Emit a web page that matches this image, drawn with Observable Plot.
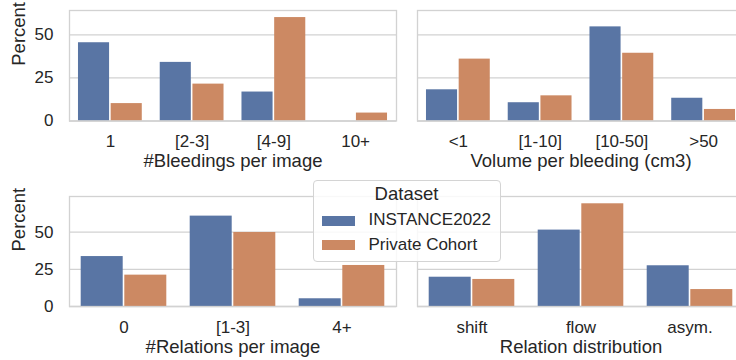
<!DOCTYPE html>
<html><head><meta charset="utf-8">
<script src="https://cdn.jsdelivr.net/npm/d3@7"></script>
<script src="https://cdn.jsdelivr.net/npm/@observablehq/plot@0.6"></script>
<style>
html,body{margin:0;padding:0;background:#fff;overflow:hidden;}
#wrap{position:relative;width:736px;height:360px;overflow:hidden;font-family:"Liberation Sans",Arial,sans-serif;color:#262626;}
.panel{position:absolute;}
.panel svg{overflow:visible;max-width:none !important;}
#legend{position:absolute;left:312.5px;top:180px;width:186px;height:79.5px;border:1px solid #d4d4d4;border-radius:4px;background:rgba(255,255,255,0.85);z-index:5;}
#legend .title{position:absolute;left:0;right:0;top:3px;text-align:center;font-size:18.5px;line-height:20px;}
#legend .sw{position:absolute;left:8px;width:33px;height:9.5px;}
#legend .lab{position:absolute;left:55px;font-size:17px;line-height:20px;white-space:nowrap;}
</style></head>
<body><div id="wrap"></div>
<script>
const datasets = ["INSTANCE2022", "Private Cohort"];
const colors = ["#5975A4", "#CC8963"];
const legendTitle = "Dataset";
const yTicks = [0, 25, 50];

const bleedCats = ["1", "[2-3]", "[4-9]", "10+"];
const bleedInstance = [45.4, 34.0, 16.8, 0];
const bleedPrivate = [10.1, 21.4, 60.0, 4.6];

const volCats = ["<1", "[1-10]", "[10-50]", ">50"];
const volInstance = [18.1, 10.6, 54.6, 13.2];
const volPrivate = [35.9, 14.6, 39.3, 6.7];

const relCats = ["0", "[1-3]", "4+"];
const relInstance = [33.6, 60.8, 5.2];
const relPrivate = [21.1, 49.8, 27.6];

const distCats = ["shift", "flow", "asym."];
const distInstance = [19.7, 51.4, 27.4];
const distPrivate = [18.2, 69.1, 11.4];

const FONT = '"Liberation Sans", Arial, sans-serif';
const LINE = "#d2d2d2";

function panel(o) {
  const rows = o.cats.flatMap((c, i) => [
    {cat: c, ds: datasets[0], v: o.inst[i]},
    {cat: c, ds: datasets[1], v: o.priv[i]}
  ]);
  const plotW = o.width - o.mL - o.mR;
  const half = plotW / o.cats.length * 0.8 / 2;
  const marks = [
    Plot.gridY(yTicks, {stroke: LINE, strokeOpacity: 1, strokeWidth: 1.3}),
    Plot.barY(rows.filter(d => d.ds === datasets[0]), {x: "cat", y: "v", fill: "ds", insetLeft: 0.8, insetRight: half + 0.8}),
    Plot.barY(rows.filter(d => d.ds === datasets[1]), {x: "cat", y: "v", fill: "ds", insetLeft: half + 0.8, insetRight: 0.8}),
    Plot.frame({stroke: LINE, strokeWidth: 1.3}),
    Plot.axisX({tickSize: 0, tickPadding: 14, label: null, fontSize: 17}),
    Plot.text([o.xlabel], {text: d => d, frameAnchor: "bottom", dy: o.labelDy, fontSize: 18.5, fill: "#262626"})
  ];
  if (o.showY) {
    marks.push(Plot.axisY(yTicks, {tickSize: 0, tickPadding: 16, label: null, fontSize: 17}));
    marks.push(Plot.text(["Percent"], {text: d => d, frameAnchor: "left", dx: -50.5, rotate: -90, fontSize: 18.5, fill: "#262626"}));
  }
  const p = Plot.plot({
    width: o.width, height: o.height,
    marginLeft: o.mL, marginRight: o.mR, marginTop: o.mT, marginBottom: o.mB,
    style: {fontFamily: FONT, fontSize: "17px", color: "#262626", background: "transparent", overflow: "visible", maxWidth: "none"},
    x: {domain: o.cats, paddingInner: 0.2, paddingOuter: 0.1, round: false, label: null, axis: null},
    y: {domain: [0, o.ymax], nice: false, label: null, axis: null},
    color: {domain: datasets, range: colors},
    marks
  });
  const div = document.createElement("div");
  div.className = "panel";
  div.style.left = o.left + "px";
  div.style.top = o.top + "px";
  div.style.width = o.width + "px";
  div.style.height = o.height + "px";
  div.appendChild(p);
  document.getElementById("wrap").appendChild(div);
}

panel({cats: bleedCats, inst: bleedInstance, priv: bleedPrivate, xlabel: "#Bleedings per image",
  ymax: 64.1, showY: true, left: 0, top: 0, width: 400, height: 180, mL: 69, mR: 4, mT: 10, mB: 59.5, labelDy: 45.5});
panel({cats: volCats, inst: volInstance, priv: volPrivate, xlabel: "Volume per bleeding (cm3)",
  ymax: 64.1, showY: false, left: 400, top: 0, width: 350, height: 180, mL: 17, mR: 6, mT: 10, mB: 59.5, labelDy: 45.5});
panel({cats: relCats, inst: relInstance, priv: relPrivate, xlabel: "#Relations per image",
  ymax: 74.0, showY: true, left: 0, top: 186, width: 400, height: 180, mL: 69, mR: 4, mT: 10, mB: 60, labelDy: 46.5});
panel({cats: distCats, inst: distInstance, priv: distPrivate, xlabel: "Relation distribution",
  ymax: 74.0, showY: false, left: 400, top: 186, width: 350, height: 180, mL: 17, mR: 6, mT: 10, mB: 60, labelDy: 46.5});

// legend
const lg = document.createElement("div");
lg.id = "legend";
const t = document.createElement("div");
t.className = "title"; t.textContent = legendTitle;
lg.appendChild(t);
datasets.forEach((name, i) => {
  const sw = document.createElement("div");
  sw.className = "sw"; sw.style.top = (35 + i * 24.3) + "px"; sw.style.background = colors[i];
  const lb = document.createElement("div");
  lb.className = "lab"; lb.style.top = (29.3 + i * 24.5) + "px"; lb.textContent = name;
  lg.appendChild(sw); lg.appendChild(lb);
});
document.getElementById("wrap").appendChild(lg);
</script>
</body></html>
